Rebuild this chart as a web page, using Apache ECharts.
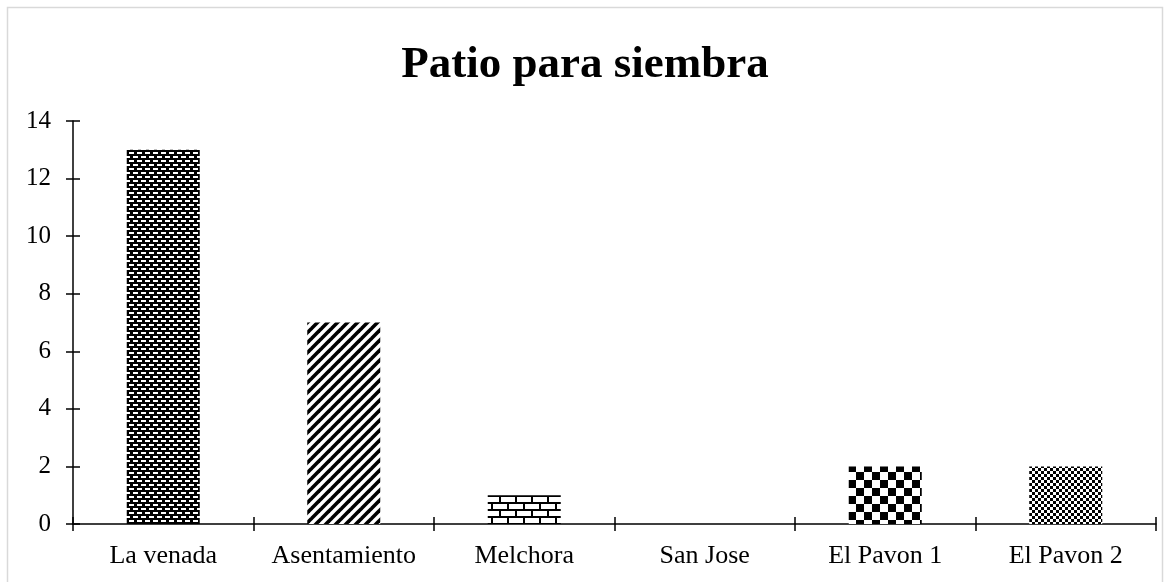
<!DOCTYPE html>
<html>
<head>
<meta charset="utf-8">
<script src="https://cdn.jsdelivr.net/npm/echarts@6/dist/echarts.min.js"></script>
<style>
html,body{margin:0;padding:0;background:#fff;}
#chart{width:1170px;height:582px;}
</style>
</head>
<body>
<div id="chart"></div>
<script>
// ---- data ----
const titleText = 'Patio para siembra';
const categories = ['La venada', 'Asentamiento', 'Melchora', 'San Jose', 'El Pavon 1', 'El Pavon 2'];
const patioValues = [13, 7, 1, 0, 2, 2];
const yTicks = [0, 2, 4, 6, 8, 10, 12, 14];

// ---- pattern tiles (style only) ----
function tile(w, h, draw) {
  const c = document.createElement('canvas');
  c.width = w; c.height = h;
  const g = c.getContext('2d');
  draw(g, w, h);
  return c;
}
const patDashes = tile(8, 8, (g) => {
  g.fillStyle = '#000'; g.fillRect(0, 0, 8, 8);
  g.fillStyle = '#fff';
  g.fillRect(1, 0, 5, 2);
  g.fillRect(5, 4, 3, 2); g.fillRect(0, 4, 2, 2);
});
const patDiag = tile(10, 10, (g) => {
  g.fillStyle = '#fff'; g.fillRect(0, 0, 10, 10);
  g.strokeStyle = '#000'; g.lineWidth = 3.6;
  for (let k = -1; k <= 1; k++) {
    g.beginPath(); g.moveTo(k * 10 - 2, 12); g.lineTo(k * 10 + 12, -2); g.stroke();
  }
});
const patBrick = tile(16, 14, (g) => {
  g.fillStyle = '#fff'; g.fillRect(0, 0, 16, 14);
  g.fillStyle = '#000';
  g.fillRect(0, 5, 16, 2);
  g.fillRect(0, 12, 16, 2);
  g.fillRect(11, 0, 2, 5);
  g.fillRect(3, 7, 2, 5);
});
const patChecker = tile(16, 16, (g) => {
  g.fillStyle = '#fff'; g.fillRect(0, 0, 16, 16);
  g.fillStyle = '#000';
  g.fillRect(0, 0, 8, 8); g.fillRect(8, 8, 8, 8);
});
const patFine = tile(6, 6, (g) => {
  g.fillStyle = '#fff'; g.fillRect(0, 0, 6, 6);
  g.fillStyle = '#000';
  g.fillRect(0, 0, 3, 3); g.fillRect(3, 3, 3, 3);
});
const patterns = [patDashes, patDiag, patBrick, patFine, patChecker, patFine];

const chart = echarts.init(document.getElementById('chart'), null, {renderer: 'canvas'});
const font = "'Liberation Serif', 'Times New Roman', serif";

const barData = patioValues.map((v, i) => ({
  value: v,
  itemStyle: {color: {image: patterns[i], repeat: 'repeat'}}
}));

const option = {
  backgroundColor: '#fff',
  animation: false,
  title: {
    text: titleText,
    left: 'center',
    top: 38,
    textStyle: {fontFamily: font, fontSize: 45, fontWeight: 'bold', color: '#000'}
  },
  grid: {left: 73, right: 14, top: 121, bottom: 58, containLabel: false},
  xAxis: [
    {
      type: 'category', data: categories, position: 'bottom',
      axisLine: {show: true, lineStyle: {color: '#000', width: 1.5}},
      axisTick: {show: true, inside: false, length: 7, interval: 0, lineStyle: {color: '#000', width: 1.5}},
      axisLabel: {fontFamily: font, fontSize: 26, color: '#000', margin: 19, interval: 0, hideOverlap: false},
      splitLine: {show: false}
    },
    {
      type: 'category', data: categories, position: 'bottom',
      axisLine: {show: false},
      axisTick: {show: true, inside: true, length: 7, interval: 0, lineStyle: {color: '#000', width: 1.5}},
      axisLabel: {show: false},
      splitLine: {show: false}
    }
  ],
  yAxis: [
    {
      type: 'value', min: yTicks[0], max: yTicks[yTicks.length - 1], interval: 2, position: 'left',
      axisLine: {show: true, lineStyle: {color: '#000', width: 1.5}},
      axisTick: {show: true, inside: false, length: 7, lineStyle: {color: '#000', width: 1.5}},
      axisLabel: {fontFamily: font, fontSize: 25, color: '#000', margin: 22},
      splitLine: {show: false}
    },
    {
      type: 'value', min: yTicks[0], max: yTicks[yTicks.length - 1], interval: 2, position: 'left',
      axisLine: {show: false},
      axisTick: {show: true, inside: true, length: 7, lineStyle: {color: '#000', width: 1.5}},
      axisLabel: {show: false},
      splitLine: {show: false}
    }
  ],
  series: [{
    type: 'bar',
    name: titleText,
    data: barData,
    barWidth: 73,
    xAxisIndex: 0,
    yAxisIndex: 0
  }],
  graphic: [{
    type: 'rect',
    shape: {x: 7.5, y: 7.5, width: 1155, height: 600},
    style: {fill: 'none', stroke: '#d9d9d9', lineWidth: 1.5},
    silent: true
  }]
};
chart.setOption(option);
</script>
</body>
</html>
